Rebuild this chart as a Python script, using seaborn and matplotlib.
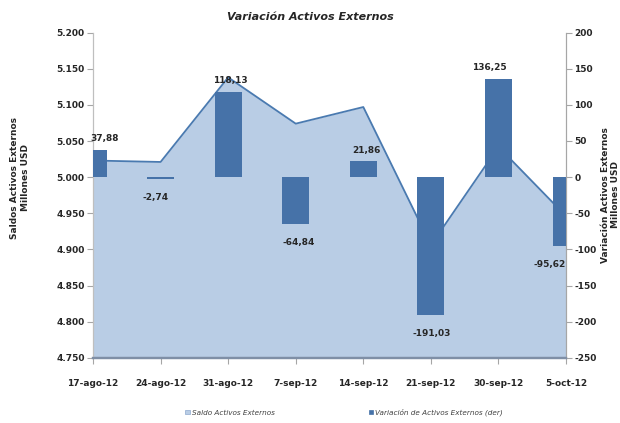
import numpy as np
import pandas as pd
import matplotlib
matplotlib.use('Agg')
import matplotlib.pyplot as plt
import seaborn as sns
from matplotlib.ticker import FuncFormatter, MultipleLocator
from matplotlib.patches import Patch

# Datos
fechas = ['17-ago-12', '24-ago-12', '31-ago-12', '7-sep-12',
          '14-sep-12', '21-sep-12', '30-sep-12', '5-oct-12']
saldo = [5023, 5021, 5138, 5074, 5097, 4906, 5042, 4946]
variacion = [37.88, -2.74, 118.13, -64.84, 21.86, -191.03, 136.25, -95.62]

df = pd.DataFrame({'fecha': fechas, 'saldo': saldo, 'variacion': variacion})
df['pos'] = np.arange(len(df))

sns.set_style('white')
plt.rcParams['font.family'] = ['DejaVu Sans']
plt.rcParams['axes.unicode_minus'] = False

fill_col = '#B9CDE5'
line_col = '#4A7AB0'
bar_col = '#4672A8'
txt_col = '#262626'

fig = plt.figure(figsize=(6.2, 4.23), dpi=100)
ax = fig.add_axes([0.15, 0.154, 0.763, 0.769])

# Area (eje izquierdo)
ax.fill_between(df['pos'], 4750, df['saldo'], color=fill_col, lw=0, zorder=1)
sns.lineplot(data=df, x='pos', y='saldo', ax=ax, color=line_col, lw=1.3, zorder=2)

# Barras (eje derecho)
ax2 = ax.twinx()
sns.barplot(data=df, x='pos', y='variacion', ax=ax2, color=bar_col,
            saturation=1, width=0.4, linewidth=0, edgecolor=bar_col, zorder=3)

# etiquetas de datos
dx = [12, -5, 2, 3, 3, 1, -9, -16]
for i, v in enumerate(variacion):
    off = 8 if v > 0 else -13
    ax2.annotate(f'{v:.2f}'.replace('.', ','), (i, v), xytext=(dx[i] * 0.72, off),
                 textcoords='offset points', ha='center', va='center',
                 fontsize=6.5, fontweight='bold', color=txt_col, zorder=5)

ax.set_ylim(4750, 5200)
ax2.set_ylim(-250, 200)
ax.set_xlim(0, len(fechas) - 1)
ax.set_xticks(df['pos'])
ax.set_xticklabels(fechas)
ax.yaxis.set_major_locator(MultipleLocator(50))
ax2.yaxis.set_major_locator(MultipleLocator(50))
ax.yaxis.set_major_formatter(FuncFormatter(lambda v, p: f'{v:,.0f}'.replace(',', '.')))
ax.set_xlabel('')
ax.set_ylabel('')
ax2.set_xlabel('')
ax2.set_ylabel('')

for a in (ax, ax2):
    a.spines['top'].set_visible(False)
    a.spines['left'].set_color('#BFBFBF')
    a.spines['right'].set_color('#A6A6A6')
    a.spines['bottom'].set_color('#7F8FA6')
    a.spines['bottom'].set_linewidth(1.6)

ax.tick_params(axis='y', left=True, length=4, width=0.8, color='#A6A6A6', pad=2,
               labelsize=6.5, labelcolor=txt_col)
ax2.tick_params(axis='y', right=True, length=4, width=0.8, color='#A6A6A6', pad=2,
                labelsize=6.5, labelcolor=txt_col)
ax.tick_params(axis='x', bottom=True, length=4, width=0.8, color='#A6A6A6', pad=11,
               labelsize=6.5, labelcolor=txt_col)
for lab in ax.get_yticklabels() + ax2.get_yticklabels() + ax.get_xticklabels():
    lab.set_fontweight('bold')

fig.text(0.5, 0.96, 'Variación Activos Externos', ha='center', va='center',
         fontsize=8, fontstyle='italic', fontweight='bold', color=txt_col)
fig.text(0.032, 0.58, 'Saldos Activos Externos\nMillones USD', rotation=90,
         ha='center', va='center', fontsize=6.5, fontweight='bold', color=txt_col,
         linespacing=1.3)
fig.text(0.984, 0.54, 'Variación Activos Externos\nMillones USD', rotation=90,
         ha='center', va='center', fontsize=6.5, fontweight='bold', color=txt_col,
         linespacing=1.15)

handles = [Patch(facecolor=fill_col, edgecolor='#8EA9CF', lw=0.5),
           Patch(facecolor=bar_col, edgecolor=bar_col, lw=0.5)]
fig.legend(handles, ['Saldo Activos Externos', 'Variación de Activos Externos (der)'],
           loc='center', bbox_to_anchor=(0.555, 0.025), ncol=2, frameon=False,
           prop={'size': 5.2, 'style': 'italic'}, labelcolor='#404040',
           handlelength=0.6, handleheight=0.6, handletextpad=0.3, columnspacing=13)

fig.savefig('out.png', dpi=100)
